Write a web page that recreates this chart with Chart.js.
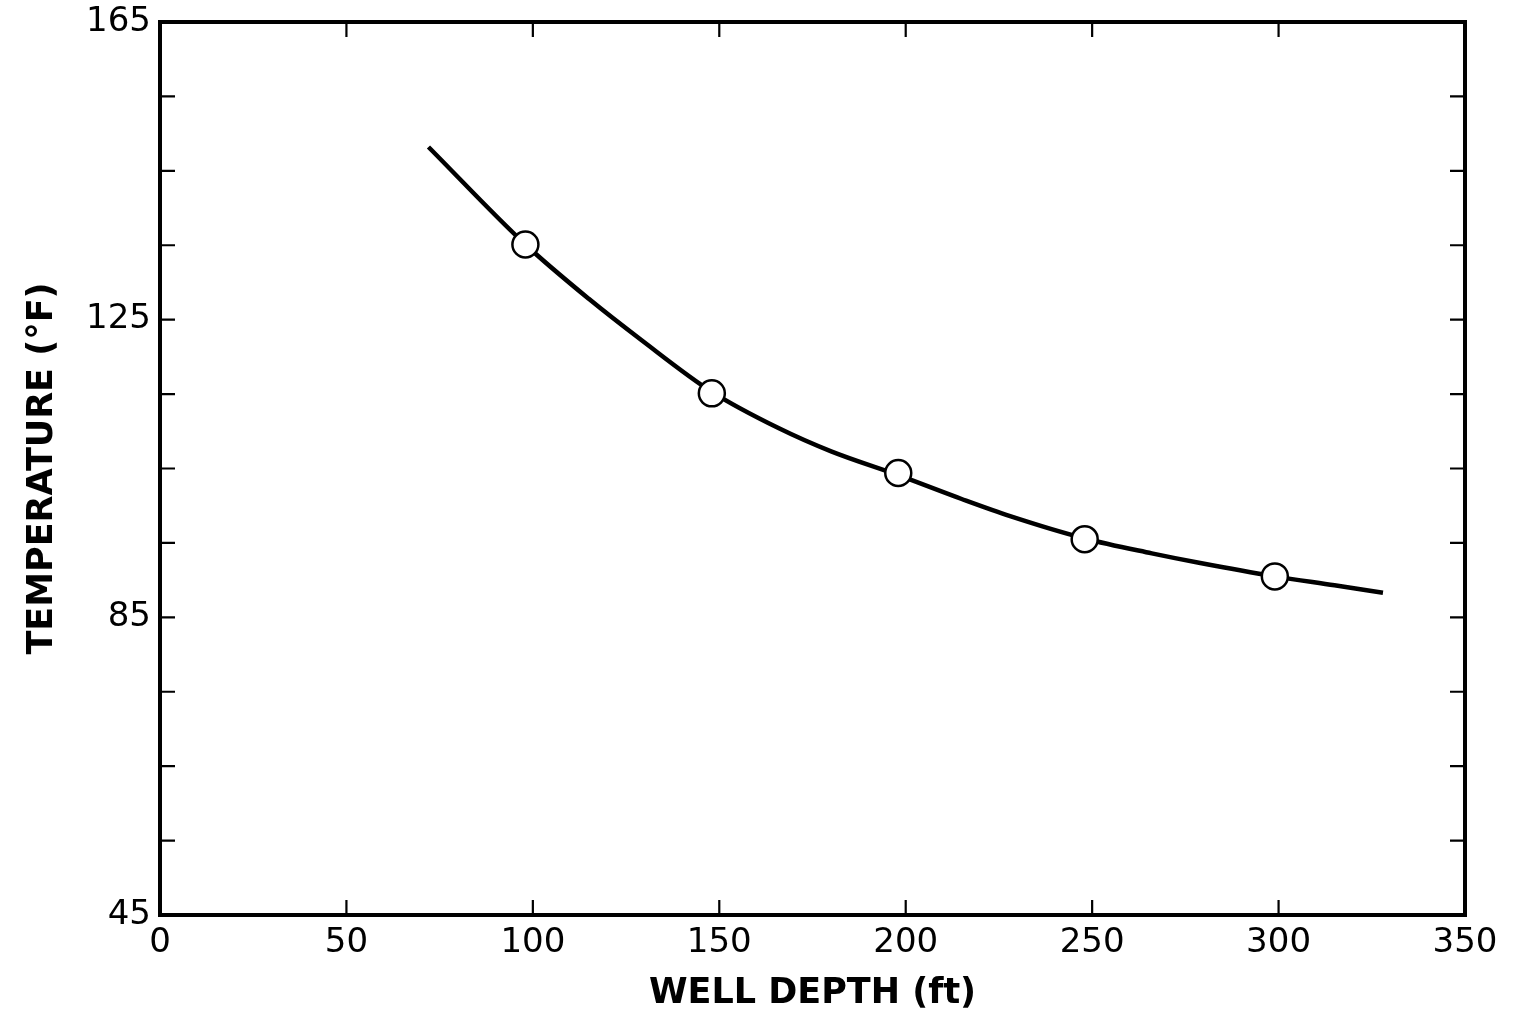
<!DOCTYPE html>
<html>
<head>
<meta charset="utf-8">
<script src="https://cdn.jsdelivr.net/npm/chart.js@4/dist/chart.umd.min.js"></script>
<style>
  html, body { margin: 0; padding: 0; background: #fff; }
  #wrap { width: 1522px; height: 1021px; }
</style>
</head>
<body>
<div id="wrap"><canvas id="wellChart"></canvas></div>
<script>
// measured points (open circles)
const depthPoints = [98, 148, 198, 248, 299];
const tempPoints = [135.1, 115.1, 104.4, 95.5, 90.5];

// fitted curve
const curveDepth = [72, 98, 115, 129, 148, 166, 180, 198, 215, 228, 248, 266, 279, 299, 315, 328];
const curveTemp = [148.2, 135.1, 127.8, 122.3, 115.3, 110.4, 107.3, 104.1, 100.9, 98.6, 95.6, 93.6, 92.3, 90.5, 89.3, 88.3];

const yLabels = [45, 85, 125, 165];

const font = "'DejaVu Sans', 'Liberation Sans', Arial, sans-serif";

// frame + inward tick marks on all four sides
const frameTicks = {
  id: 'frameTicks',
  afterDatasetsDraw(chart) {
    const { ctx, chartArea: a, scales: { x, y } } = chart;
    ctx.save();
    ctx.strokeStyle = '#000';
    ctx.lineWidth = 2.2;
    const len = 15;
    x.ticks.forEach(t => {
      if (t.value <= x.min || t.value >= x.max) return;
      const px = x.getPixelForValue(t.value);
      ctx.beginPath();
      ctx.moveTo(px, a.bottom); ctx.lineTo(px, a.bottom - len);
      ctx.moveTo(px, a.top); ctx.lineTo(px, a.top + len);
      ctx.stroke();
    });
    y.ticks.forEach(t => {
      if (t.value <= y.min || t.value >= y.max) return;
      const py = y.getPixelForValue(t.value);
      ctx.beginPath();
      ctx.moveTo(a.left, py); ctx.lineTo(a.left + len, py);
      ctx.moveTo(a.right, py); ctx.lineTo(a.right - len, py);
      ctx.stroke();
    });
    ctx.lineWidth = 4;
    ctx.strokeRect(a.left, a.top, a.right - a.left, a.bottom - a.top);
    ctx.restore();
  }
};

new Chart(document.getElementById('wellChart'), {
  data: {
    datasets: [
      {
        type: 'scatter',
        data: depthPoints.map((d, i) => ({ x: d, y: tempPoints[i] })),
        pointRadius: 13,
        pointBorderWidth: 2.5,
        pointBackgroundColor: '#fff',
        pointBorderColor: '#000',
        order: 0
      },
      {
        type: 'line',
        data: curveDepth.map((d, i) => ({ x: d, y: curveTemp[i] })),
        borderColor: '#000',
        borderWidth: 4.5,
        pointRadius: 0,
        fill: false,
        cubicInterpolationMode: 'monotone',
        order: 1
      }
    ]
  },
  options: {
    responsive: true,
    maintainAspectRatio: false,
    animation: false,
    layout: { padding: { left: 0, right: 57, top: 22, bottom: 0 } },
    plugins: { legend: { display: false }, tooltip: { enabled: false } },
    scales: {
      x: {
        type: 'linear',
        min: 0, max: 350,
        grid: { display: false, drawTicks: false },
        border: { display: false },
        ticks: { stepSize: 50, color: '#000', padding: 8, font: { family: font, size: 34 } },
        title: {
          display: true, text: 'WELL DEPTH (ft)', color: '#000',
          font: { family: font, size: 35, weight: 'bold' },
          padding: { top: 0, bottom: 6 }
        },
        afterFit(s) { s.height = 106; s.paddingLeft = 0; s.paddingRight = 0; }
      },
      y: {
        type: 'linear',
        min: 45, max: 165,
        grid: { display: false, drawTicks: false },
        border: { display: false },
        ticks: {
          stepSize: 10, color: '#000', padding: 9,
          font: { family: font, size: 34 },
          callback: v => yLabels.includes(v) ? String(v) : ''
        },
        title: {
          display: true, text: 'TEMPERATURE (°F)', color: '#000',
          font: { family: font, size: 35, weight: 'bold' },
          padding: { top: 22, bottom: 0 }
        },
        afterFit(s) { s.width = 160; s.paddingTop = 0; s.paddingBottom = 0; }
      }
    }
  },
  plugins: [frameTicks]
});
</script>
</body>
</html>
